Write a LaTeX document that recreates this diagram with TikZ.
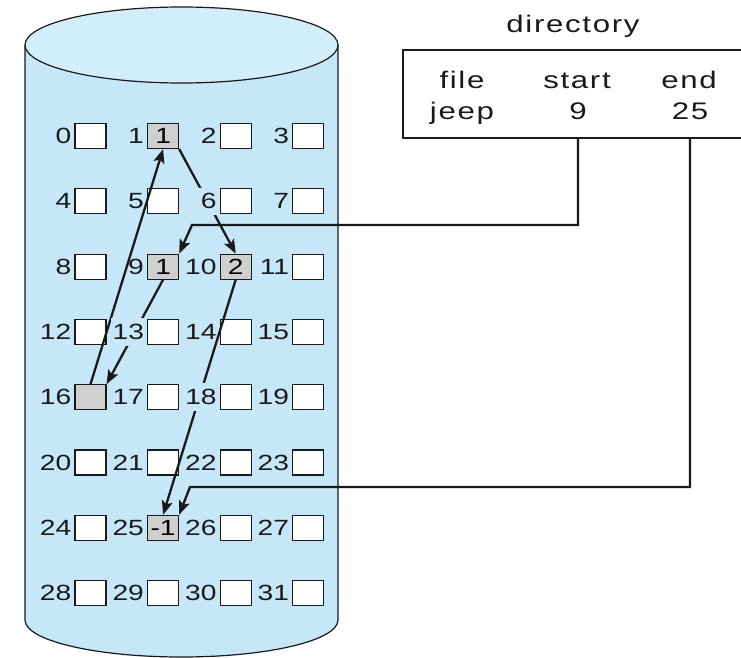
\documentclass[tikz,border=0pt]{standalone}
\usepackage{fontspec}
\setmainfont[FakeStretch=1.28]{Liberation Sans}
\newfontfamily\dirfont[FakeStretch=1.3,LetterSpace=7]{Liberation Sans}
\usetikzlibrary{arrows.meta}
\definecolor{cyl}{HTML}{C6E7F8}
\definecolor{cyltop}{HTML}{D3EEFB}
\definecolor{blkgray}{HTML}{CFCFCF}
\definecolor{ink}{HTML}{1A1A1A}
\pgfdeclarelayer{background}
\pgfdeclarelayer{arrows}
\pgfdeclarelayer{labels}
\pgfsetlayers{background,main,arrows,labels}
\begin{document}
\begin{tikzpicture}[x=1pt,y=-1pt,
  blk/.style={draw=ink,line width=1.1pt,fill=white,minimum width=31pt,minimum height=25pt,inner sep=0pt,font=\fontsize{22}{22}\selectfont},
  gblk/.style={blk,fill=blkgray},
  lab/.style={anchor=east,inner sep=1.5pt,text=ink,font=\fontsize{22}{22}\selectfont},
  gaplab/.style={lab,fill=cyl,inner xsep=1.5pt,inner ysep=6pt,outer sep=0pt},
  dtxt/.style={text=ink,font=\dirfont\fontsize{24}{24}\selectfont,inner sep=0pt,anchor=base},
  link/.style={line width=2.3pt,draw=ink,-{Stealth[length=14pt,width=11pt,inset=3pt]}},
  ptr/.style={line width=2.3pt,draw=ink,-{Stealth[length=14pt,width=11pt,inset=3pt]}}]
\useasboundingbox (0,0) rectangle (741,658);
% cylinder
\begin{pgfonlayer}{background}
\path[fill=cyl,draw=ink,line width=1.2pt] (25,45) -- (25,620) arc[start angle=180,end angle=0,x radius=156.5,y radius=37] -- (338,45);
\path[fill=cyltop,draw=ink,line width=1.2pt] (181.5,45) ellipse[x radius=156.5,y radius=38];
\end{pgfonlayer}
% blocks and labels
\foreach \r in {0,...,7}{
  \foreach \c in {0,...,3}{
    \pgfmathtruncatemacro\n{4*\r+\c}
    \node[blk] (b\n) at ({90.5+72.6*\c},{136+65.3*\r}) {};
  }
}
\begin{pgfonlayer}{labels}
\foreach \n in {0,1,2,3,4,5,7,8,9,10,11,12,14,15,16,17,19,20,21,22,23,24,25,26,27,28,29,30,31}{
  \node[lab] (l\n) at ([xshift=-1.5pt]b\n.west) {\n};
}
\node[gaplab] (l6) at ([xshift=-1.5pt]b6.west) {6};
\node[gaplab] (l13) at ([xshift=-1.5pt]b13.west) {13};
\node[gaplab] (l18) at ([xshift=-1.5pt]b18.west) {18};
\end{pgfonlayer}
\node[gblk] (g1) at (b1) {1};
\node[gblk] (g9) at (b9) {1};
\node[gblk] (g10) at (b10) {2};
\node[gblk] (g16) at (b16) {};
\node[gblk] (g25) at (b25) {-1};
% directory
\node[dtxt] (dir) at (573,33) {directory};
\draw[line width=2.3pt,draw=ink] (741,50) -- (403,50) -- (403,138) -- (741,138);
\node[dtxt] (hfile) at (462,89) {file};
\node[dtxt] (hstart) at (577,89) {start};
\node[dtxt] (hend) at (689,89) {end};
\node[dtxt] (vfile) at (462,120) {jeep};
\node[dtxt] (vstart) at (578,120) {9};
\node[dtxt] (vend) at (690,120) {25};
\coordinate (s0) at (578,138);
\coordinate (s1) at (578,225);
\coordinate (s2) at (192,225);
\coordinate (e0) at (690,138);
\coordinate (e1) at (690,487);
\coordinate (e2) at (190,487);
% links
\begin{pgfonlayer}{arrows}
\draw[link] (g1.south east) -- (g10.north);
\draw[link] (g9.south) -- (g16.north east);
\draw[link] (g16.north) -- (g1.south);
\draw[link] (g10.south) -- (g25.north);
\draw[ptr] (s0) -- (s1) -- (s2) -- (g9.north east);
\draw[ptr] (e0) -- (e1) -- (e2) -- (g25.north east);
\end{pgfonlayer}
\end{tikzpicture}
\end{document}
